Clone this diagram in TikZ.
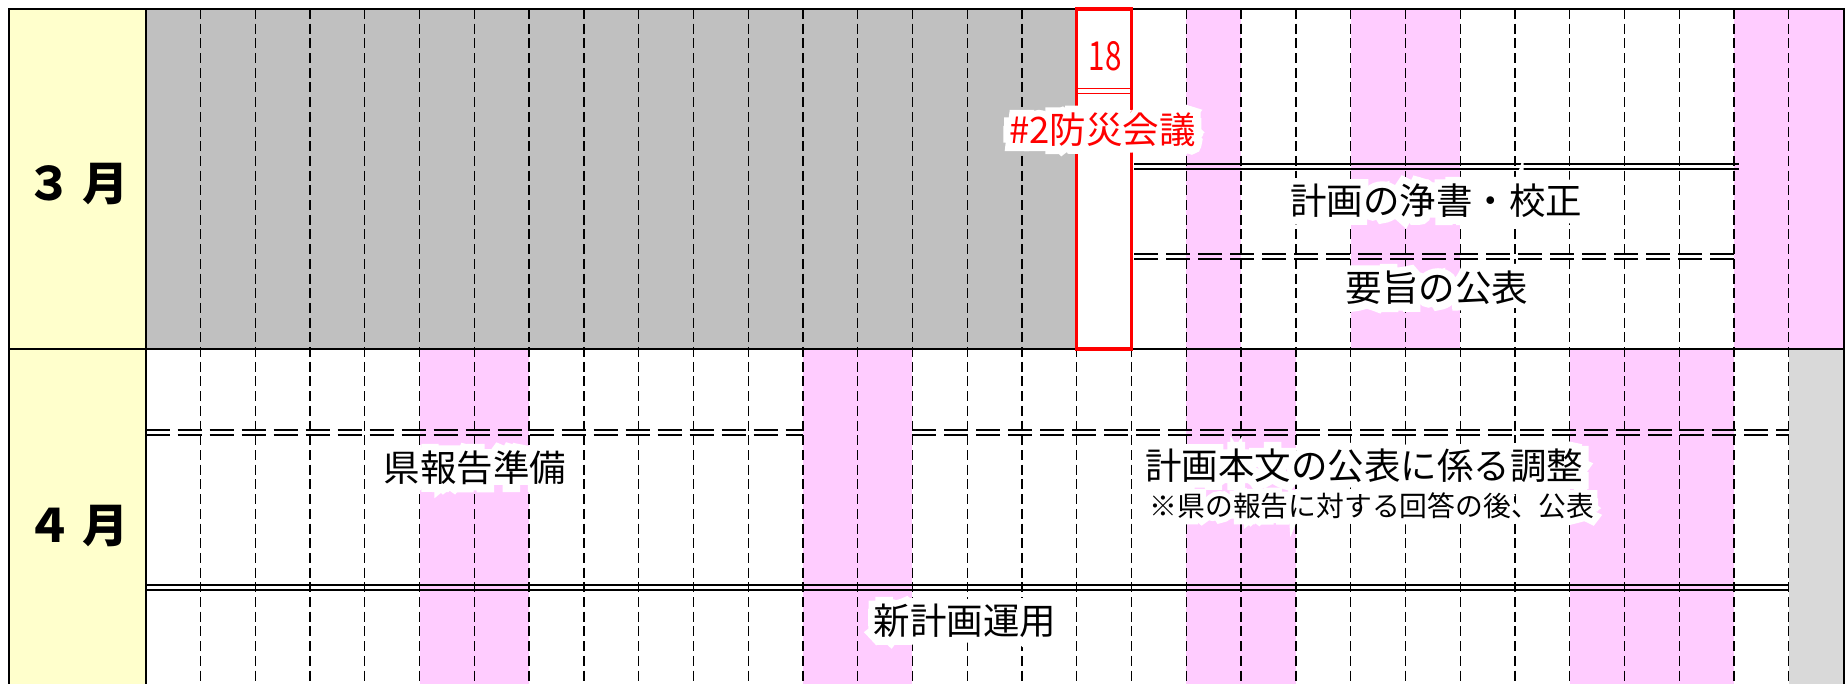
\documentclass[tikz,border=0pt]{standalone}
\usepackage{fontspec}
\setmainfont{Noto Sans CJK JP}
\newfontfamily\halofont{Noto Sans CJK JP}[FakeBold=40]
\usepackage{tikz}
\usetikzlibrary{calc,positioning}
\definecolor{tsuki}{RGB}{255,255,204}
\definecolor{kako}{RGB}{192,192,192}
\definecolor{kyujitsu}{RGB}{255,204,255}
\definecolor{nashi}{RGB}{217,217,217}
\tikzset{GANTT style/.style={x=0.5pt,y=-0.5pt},
	days/.style={shift={(145.7,0)},x=27.385pt},
	waku/.style={line width=1pt},
	hiline/.style={line width=0.65pt,dash pattern=on 5pt off 2.35pt},
	nijuu/.style={line width=1pt},
	nijuuha/.style={line width=1pt,dash pattern=on 12pt off 4pt},
	akawaku/.style={draw=red,line width=1.6pt},
	lbl/.style={inner sep=0pt,font=\fontsize{18.25}{20}\selectfont},
	chuu/.style={inner sep=0pt,font=\fontsize{13.9}{15}\selectfont},
	tsukilbl/.style={inner sep=0pt,font=\fontsize{23}{25}\selectfont\bfseries},
	halo/.style={text=white,execute at begin node=\halofont}}
\newcommand{\glowtext}[4]{%
	\node[#3,halo] (#1-h) at (#2) {#4};
	\node[#3] (#1) at (#2) {#4};}

\begin{document}
\begin{tikzpicture}[GANTT style]
	\useasboundingbox (0,0) rectangle (1848,684);
	\clip (0,0) rectangle (1848,684);
	\fill[white] (0,0) rectangle (1848,684);
	\fill[tsuki] (9,9) rectangle (145.7,700);
	
	\begin{scope}[days]
		% 3月
		\fill[kako] (0,9) rectangle (17,349);
		\foreach \a/\b in {19/20,22/24,29/31}
			\fill[kyujitsu] (\a,9) rectangle (\b,349);
		% 4月
		\foreach \a/\b in {5/7,12/14,19/21,26/29}
			\fill[kyujitsu] (\a,349) rectangle (\b,700);
		\fill[nashi] (30,349) rectangle (31,700);
		\foreach \i in {1,...,30}
			\draw[hiline] (\i,9) -- (\i,700);
	\end{scope}
	
	\draw[waku] (9,700) -- (9,9) -- (1843.5,9) -- (1843.5,700);
	\draw[waku] (9,349) -- (1843.5,349);
	\draw[waku] (145.7,9) -- (145.7,700);
	
	\begin{scope}[days]
		\draw[nijuu] (18.05,164) -- (29.09,164) (18.05,169) -- (29.09,169);
		\draw[nijuuha] (18.05,254.5) -- (29,254.5) (18.05,259) -- (29,259);
		\draw[nijuuha] (0,430) -- (12,430) (0,435) -- (12,435);
		\draw[nijuuha] (14,430) -- (30,430) (14,435) -- (30,435);
		\draw[nijuu] (0,585) -- (29.98,585) (0,590) -- (29.98,590);
		% 18日
		\draw[akawaku] (17,9) rectangle (18,349);
		\draw[red,line width=0.7pt] (17,88.5) -- (18,88.5) (17,93.3) -- (18,93.3);
	\end{scope}
	
	\node[tsukilbl] (mar) at (77.5,184) {３\hspace{5pt}月};
	\node[tsukilbl] (apr) at (77.5,526) {４\hspace{5pt}月};
	\node[lbl,text=red] (day18) at (1105,56.5) {\fontsize{20}{22}\selectfont\scalebox{0.74}[1]{18}};
	\glowtext{bousai}{1102.5,130}{lbl,text=red}{\#2防災会議}
	\glowtext{joushou}{1436,201}{lbl}{計画の浄書・校正}
	\glowtext{youshi}{1437,288}{lbl}{要旨の公表}
	\glowtext{kenhou}{475,468}{lbl}{県報告準備}
	\glowtext{honbun}{1364,466}{lbl}{計画本文の公表に係る調整}
	\glowtext{chuuki}{1372,506}{chuu}{※県の報告に対する回答の後、公表}
	\glowtext{unyou}{965,621}{lbl}{新計画運用}
\end{tikzpicture}
\end{document}
